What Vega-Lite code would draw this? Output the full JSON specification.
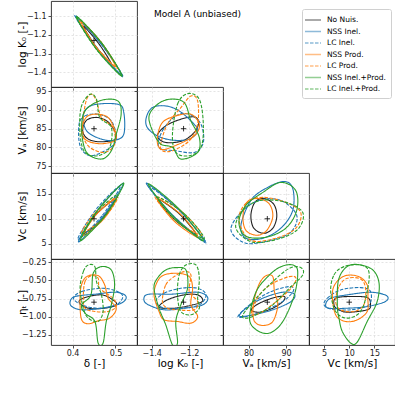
{
"$schema":"https://vega.github.io/schema/vega-lite/v6.json",
"background":"white",
"padding":{"left":16,"top":0,"right":2,"bottom":4},
"columns":4,"spacing":0,"bounds":"flush",
"datasets":{
"t":[{"p":"dk","x":0.45,"y":-1.23},{"p":"da","x":0.45,"y":85},{"p":"ka","x":-1.23,"y":85},{"p":"dc","x":0.45,"y":10},{"p":"kc","x":-1.23,"y":10},{"p":"ac","x":85,"y":10},{"p":"de","x":0.45,"y":-0.8},{"p":"ke","x":-1.23,"y":-0.8},{"p":"ae","x":85,"y":-0.8},{"p":"ce","x":10,"y":-0.8}],
"c":[
{"p":"dk","s":"No Nuis.","x":[0.425,0.4611,0.49,0.4539],"y":[-1.153,-1.2469,-1.354,-1.2601]},
{"p":"dk","s":"NSS Inel.","x":[0.41,0.4679,0.515,0.4571],"y":[-1.11,-1.2526,-1.415,-1.2724]},
{"p":"dk","s":"LC Inel.","x":[0.405,0.4669,0.518,0.4561],"y":[-1.095,-1.2501,-1.425,-1.2699]},
{"p":"dk","s":"NSS Prod.","x":[0.42,0.4663,0.50,0.4537],"y":[-1.13,-1.2384,-1.37,-1.2616]},
{"p":"dk","s":"LC Prod.","x":[0.415,0.4663,0.505,0.4537],"y":[-1.12,-1.2384,-1.38,-1.2616]},
{"p":"dk","s":"NSS Inel.+Prod.","x":[0.41,0.4697,0.515,0.4553],"y":[-1.105,-1.2493,-1.42,-1.2757]},
{"p":"dk","s":"LC Inel.+Prod.","x":[0.408,0.4687,0.515,0.4543],"y":[-1.10,-1.2468,-1.42,-1.2732]},
{"p":"da","s":"No Nuis.","x":[0.4237,0.4329,0.4596,0.4864,0.5017,0.4673,0.4367],"y":[84.43,87.26,87.96,86.37,82.48,81.51,82.22]},
{"p":"da","s":"NSS Inel.","x":[0.4252,0.4482,0.5055,0.5193,0.5193,0.4979,0.4673,0.4329],"y":[88.85,91.32,91.50,89.29,83.54,81.95,82.22,84.43]},
{"p":"da","s":"LC Inel.","x":[0.4153,0.4291,0.4596,0.4902,0.5017,0.4826,0.4405,0.4176],"y":[86.20,88.41,88.85,87.08,82.22,79.56,77.80,80.45]},
{"p":"da","s":"NSS Prod.","x":[0.4214,0.4329,0.4596,0.4864,0.5017,0.4749,0.4443,0.4252],"y":[84.87,88.14,88.85,87.52,82.48,81.07,81.33,82.66]},
{"p":"da","s":"LC Prod.","x":[0.4252,0.4329,0.4443,0.4558,0.4673,0.4940,0.4979,0.4749,0.4405,0.4252],"y":[87.96,92.83,94.15,92.39,87.96,85.31,80.89,78.68,80.01,83.10]},
{"p":"da","s":"NSS Inel.+Prod.","x":[0.4214,0.4291,0.4673,0.5055,0.5131,0.5017,0.4902,0.4673,0.4329],"y":[84.43,89.73,92.56,92.39,88.85,83.54,79.12,76.91,78.68]},
{"p":"da","s":"LC Inel.+Prod.","x":[0.4176,0.4199,0.4405,0.4558,0.4635,0.4902,0.4864,0.4596,0.4291],"y":[83.54,90.62,94.15,92.83,87.96,85.31,80.01,77.80,78.68]},
{"p":"ka","s":"No Nuis.","x":[-1.3696,-1.3249,-1.2445,-1.1730,-1.1498,-1.1730,-1.2356,-1.3249],"y":[83.10,85.75,87.52,88.14,86.64,83.99,81.78,81.33]},
{"p":"ka","s":"NSS Inel.","x":[-1.4286,-1.3964,-1.3249,-1.2534,-1.1820,-1.1551,-1.1998,-1.2892,-1.3696,-1.4232],"y":[87.96,90.62,91.06,89.73,86.64,84.43,82.22,81.95,83.10,85.31]},
{"p":"ka","s":"LC Inel.","x":[-1.3607,-1.3428,-1.2713,-1.1998,-1.1373,-1.1248,-1.1730,-1.2713],"y":[80.01,84.43,88.41,88.85,86.20,81.33,78.68,79.12]},
{"p":"ka","s":"NSS Prod.","x":[-1.3696,-1.3428,-1.2713,-1.1909,-1.1462,-1.1641,-1.2177,-1.3249,-1.3607],"y":[82.66,86.64,88.41,88.85,86.20,83.54,81.78,79.56,80.01]},
{"p":"ka","s":"LC Prod.","x":[-1.3517,-1.3160,-1.2445,-1.1909,-1.1551,-1.1551,-1.1998,-1.2892,-1.3428],"y":[80.89,86.20,90.62,93.71,92.39,86.20,81.78,79.12,79.12]},
{"p":"ka","s":"NSS Inel.+Prod.","x":[-1.4143,-1.3786,-1.3071,-1.2266,-1.1909,-1.1462,-1.1551,-1.2445,-1.2892,-1.3607],"y":[87.52,91.06,92.83,91.94,87.08,82.66,78.68,76.91,80.01,81.33]},
{"p":"ka","s":"LC Inel.+Prod.","x":[-1.2892,-1.2624,-1.2088,-1.1462,-1.1248,-1.1373,-1.1998,-1.2713],"y":[83.54,91.50,94.33,92.83,86.20,80.01,77.80,78.68]},
{"p":"dc","s":"No Nuis.","x":[0.4252,0.4677,0.4979,0.4554],"y":[7.05,9.93,13.79,10.92]},
{"p":"dc","s":"NSS Inel.","x":[0.4138,0.4734,0.5185,0.4589],"y":[5.40,10.76,17.09,11.73]},
{"p":"dc","s":"LC Inel.","x":[0.4122,0.4697,0.5116,0.4541],"y":[5.87,10.71,16.62,11.78]},
{"p":"dc","s":"NSS Prod.","x":[0.4252,0.4708,0.5017,0.4561],"y":[6.72,9.78,13.98,10.93]},
{"p":"dc","s":"LC Prod.","x":[0.4214,0.4715,0.5055,0.4554],"y":[7.19,10.04,14.31,11.46]},
{"p":"dc","s":"NSS Inel.+Prod.","x":[0.4183,0.4774,0.5193,0.4602],"y":[5.60,10.78,17.09,11.90]},
{"p":"dc","s":"LC Inel.+Prod.","x":[0.4199,0.4707,0.5055,0.4547],"y":[6.39,10.01,14.84,11.22]},
{"p":"kc","s":"No Nuis.","x":[-1.3696,-1.2534,-1.1641,-1.2803],"y":[13.98,10.99,6.92,9.92]},
{"p":"kc","s":"NSS Inel.","x":[-1.4286,-1.2561,-1.114,-1.2865],"y":[17.09,11.81,5.40,10.68]},
{"p":"kc","s":"LC Inel.","x":[-1.4143,-1.2459,-1.1105,-1.2788],"y":[16.43,11.42,5.21,10.21]},
{"p":"kc","s":"NSS Prod.","x":[-1.3696,-1.245,-1.1551,-1.2797],"y":[13.98,10.86,6.39,9.52]},
{"p":"kc","s":"LC Prod.","x":[-1.3821,-1.2386,-1.1319,-1.2754],"y":[14.45,11.40,6.72,9.77]},
{"p":"kc","s":"NSS Inel.+Prod.","x":[-1.4179,-1.2533,-1.1248,-1.2894],"y":[16.95,11.92,5.60,10.64]},
{"p":"kc","s":"LC Inel.+Prod.","x":[-1.3696,-1.2254,-1.1194,-1.2636],"y":[14.31,10.97,6.06,9.40]},
{"p":"ac","s":"No Nuis.","x":[80.63,81.69,84.08,86.73,87.52,86.46,84.08,81.42],"y":[10.68,13.26,14.05,12.86,10.49,8.11,7.12,8.11]},
{"p":"ac","s":"NSS Inel.","x":[77.97,80.63,84.61,89.38,91.77,91.77,88.58,83.81,79.30],"y":[8.70,13.66,16.03,17.42,16.03,11.67,8.11,6.13,6.13]},
{"p":"ac","s":"LC Inel.","x":[75.32,77.97,82.75,88.58,92.83,91.24,85.93,79.30],"y":[7.71,11.28,13.66,13.66,10.68,7.32,5.73,5.14]},
{"p":"ac","s":"NSS Prod.","x":[78.51,79.57,82.22,85.40,86.46,84.87,82.22,79.30],"y":[10.49,13.26,14.05,13.06,10.49,7.71,6.72,7.71]},
{"p":"ac","s":"LC Prod.","x":[77.44,79.30,83.81,89.91,93.89,92.56,87.26,80.63],"y":[9.69,13.06,14.25,13.26,11.28,8.11,6.13,5.73]},
{"p":"ac","s":"NSS Inel.+Prod.","x":[77.44,79.30,83.81,88.58,92.56,92.83,89.91,84.61,79.30],"y":[9.30,12.66,15.24,17.22,15.63,11.67,8.11,6.33,6.53]},
{"p":"ac","s":"LC Inel.+Prod.","x":[76.65,78.51,83.28,89.91,94.42,93.36,88.58,81.16],"y":[8.11,11.67,13.66,13.26,11.28,8.11,6.13,5.34]},
{"p":"de","s":"No Nuis.","x":[0.4153,0.4291,0.4673,0.4940,0.5017,0.4749,0.4367],"y":[-0.800,-0.736,-0.699,-0.768,-0.837,-0.883,-0.883]},
{"p":"de","s":"NSS Inel.","x":[0.3946,0.4061,0.4520,0.5017,0.5245,0.5131,0.4673,0.4214,0.3985],"y":[-0.791,-0.722,-0.690,-0.663,-0.722,-0.814,-0.883,-0.905,-0.860]},
{"p":"de","s":"LC Inel.","x":[0.4023,0.4214,0.4673,0.5017,0.5170,0.5017,0.4596,0.4214],"y":[-0.745,-0.654,-0.608,-0.645,-0.722,-0.837,-0.883,-0.837]},
{"p":"de","s":"NSS Prod.","x":[0.4176,0.4199,0.4329,0.4596,0.4749,0.4826,0.5017,0.4864,0.4596,0.4367,0.4214],"y":[-0.837,-0.585,-0.448,-0.434,-0.562,-0.745,-0.883,-1.020,-1.057,-1.098,-1.043]},
{"p":"de","s":"LC Prod.","x":[0.4252,0.4291,0.4443,0.4596,0.4635,0.4940,0.5017,0.4826,0.4520,0.4291],"y":[-0.722,-0.516,-0.434,-0.470,-0.608,-0.745,-0.860,-0.928,-0.928,-0.883]},
{"p":"de","s":"NSS Inel.+Prod.","x":[0.4428,0.4482,0.4673,0.4902,0.4979,0.4902,0.4786,0.4711,0.4596,0.4520,0.4291,0.4214],"y":[-0.699,-0.402,-0.310,-0.356,-0.562,-0.837,-1.066,-1.363,-1.363,-1.066,-0.951,-0.837]},
{"p":"de","s":"LC Inel.+Prod.","x":[0.4176,0.4252,0.4367,0.4520,0.4558,0.4673,0.4711,0.4596,0.4367,0.4252],"y":[-0.608,-0.379,-0.287,-0.310,-0.516,-0.699,-0.928,-1.066,-1.020,-0.883]},
{"p":"ke","s":"No Nuis.","x":[-1.3607,-1.3160,-1.2266,-1.1551,-1.1283,-1.1820,-1.2803],"y":[-0.869,-0.768,-0.699,-0.699,-0.782,-0.837,-0.883]},
{"p":"ke","s":"NSS Inel.","x":[-1.4411,-1.4143,-1.2981,-1.1551,-1.1015,-1.1283,-1.2266,-1.3339,-1.4232],"y":[-0.745,-0.690,-0.690,-0.663,-0.736,-0.837,-0.883,-0.905,-0.828]},
{"p":"ke","s":"LC Inel.","x":[-1.3786,-1.3339,-1.2445,-1.1551,-1.1105,-1.1462,-1.2445,-1.3339],"y":[-0.791,-0.677,-0.608,-0.608,-0.699,-0.837,-0.883,-0.883]},
{"p":"ke","s":"NSS Prod.","x":[-1.3875,-1.3696,-1.3339,-1.2624,-1.1998,-1.1820,-1.1909,-1.1551,-1.1909,-1.2624,-1.3339,-1.3607],"y":[-0.699,-0.516,-0.425,-0.402,-0.448,-0.608,-0.837,-0.997,-1.089,-1.066,-1.043,-0.928]},
{"p":"ke","s":"LC Prod.","x":[-1.3428,-1.3249,-1.2803,-1.2266,-1.1909,-1.1998,-1.1551,-1.1730,-1.2624,-1.3160],"y":[-0.791,-0.562,-0.448,-0.379,-0.425,-0.654,-0.791,-0.905,-0.905,-0.883]},
{"p":"ke","s":"NSS Inel.+Prod.","x":[-1.3875,-1.3696,-1.3249,-1.2713,-1.2177,-1.2088,-1.2445,-1.2713,-1.2624,-1.2892,-1.3249,-1.3607],"y":[-0.608,-0.471,-0.356,-0.324,-0.356,-0.608,-0.837,-1.066,-1.363,-1.386,-1.112,-0.883]},
{"p":"ke","s":"LC Inel.+Prod.","x":[-1.2624,-1.2534,-1.2177,-1.1641,-1.1462,-1.1551,-1.1462,-1.1909,-1.2445],"y":[-0.699,-0.425,-0.287,-0.287,-0.471,-0.745,-0.883,-0.974,-0.928]},
{"p":"ae","s":"No Nuis.","x":[80.72,82.93,86.90,89.56,89.12,86.46,82.93],"y":[-0.905,-0.814,-0.736,-0.722,-0.791,-0.883,-0.938]},
{"p":"ae","s":"NSS Inel.","x":[77.62,79.39,83.81,89.12,92.21,91.33,86.46,81.16,78.06],"y":[-0.974,-0.883,-0.745,-0.663,-0.690,-0.791,-0.905,-0.974,-0.997]},
{"p":"ae","s":"LC Inel.","x":[77.18,80.27,85.58,90.88,91.94,89.12,83.81,79.39],"y":[-0.997,-0.837,-0.663,-0.585,-0.645,-0.791,-0.928,-0.997]},
{"p":"ae","s":"NSS Prod.","x":[81.60,82.93,84.69,86.46,86.90,87.79,86.46,83.81,81.60,81.16],"y":[-0.745,-0.539,-0.434,-0.448,-0.654,-0.837,-1.066,-1.121,-1.066,-0.905]},
{"p":"ae","s":"LC Prod.","x":[80.72,82.93,86.46,90.88,92.65,91.33,87.35,83.81,81.60],"y":[-0.951,-0.699,-0.539,-0.448,-0.471,-0.608,-0.791,-0.928,-0.974]},
{"p":"ae","s":"NSS Inel.+Prod.","x":[80.27,82.04,85.58,88.67,91.77,93.09,92.21,89.12,85.58,82.04],"y":[-1.020,-0.654,-0.425,-0.310,-0.287,-0.379,-0.699,-1.066,-1.226,-1.180]},
{"p":"ae","s":"LC Inel.+Prod.","x":[78.50,82.04,86.46,90.88,93.98,94.42,90.88,86.46,82.04,79.39],"y":[-0.974,-0.745,-0.516,-0.333,-0.324,-0.425,-0.608,-0.837,-0.974,-1.020]},
{"p":"ce","s":"No Nuis.","x":[6.97,7.30,9.94,13.57,14.23,13.57,9.61,7.63],"y":[-0.837,-0.745,-0.722,-0.736,-0.837,-0.905,-0.938,-0.892]},
{"p":"ce","s":"NSS Inel.","x":[5.32,6.31,9.61,14.23,17.40,17.20,13.57,9.61,5.98],"y":[-0.828,-0.745,-0.699,-0.663,-0.709,-0.791,-0.860,-0.883,-0.883]},
{"p":"ce","s":"LC Inel.","x":[4.99,5.65,8.29,12.25,14.23,13.90,10.27,6.31],"y":[-0.837,-0.745,-0.631,-0.599,-0.654,-0.837,-0.905,-0.892]},
{"p":"ce","s":"NSS Prod.","x":[6.64,7.30,9.28,11.92,13.57,13.70,13.57,11.59,9.28,7.30],"y":[-0.699,-0.539,-0.434,-0.448,-0.562,-0.745,-0.928,-1.043,-1.066,-0.974]},
{"p":"ce","s":"LC Prod.","x":[7.30,7.96,9.61,12.25,13.24,12.91,10.93,8.29],"y":[-0.791,-0.585,-0.471,-0.480,-0.608,-0.837,-0.928,-0.905]},
{"p":"ce","s":"NSS Inel.+Prod.","x":[7.63,7.96,10.27,14.23,15.88,15.55,13.57,11.59,10.27,8.62,7.96],"y":[-0.837,-0.471,-0.287,-0.333,-0.516,-0.791,-1.066,-1.350,-1.363,-1.203,-1.020]},
{"p":"ce","s":"LC Inel.+Prod.","x":[6.31,6.97,8.95,12.25,13.90,13.57,12.25,9.61,7.30],"y":[-0.654,-0.425,-0.310,-0.287,-0.379,-0.654,-0.928,-1.020,-0.928]}
]},
"concat":[
{"width":86,"height":86,
 "encoding":{"x":{"field":"x","type":"quantitative","scale":{"domain":[0.35,0.55],"nice":false,"zero":false},"axis":{"values":[0.4,0.5],"labels":false,"title":null}},
  "y":{"field":"y","type":"quantitative","scale":{"domain":[-1.478,-1.02],"nice":false,"zero":false},"axis":{"values":[-1.4,-1.3,-1.2,-1.1],"format":".1f","title":"log K₀ [-]"}}},
 "layer":[
  {"data":{"name":"c"},"transform":[{"filter":"datum.p=='dk'"},{"flatten":["x","y"]}],"mark":{"type":"line","interpolate":"cardinal-closed","strokeWidth":1.1,"clip":true},
   "encoding":{"color":{"field":"s","type":"nominal","scale":{"domain":["No Nuis.","NSS Inel.","LC Inel.","NSS Prod.","LC Prod.","NSS Inel.+Prod.","LC Inel.+Prod."],"range":["#222222","#1f77b4","#1f77b4","#ff7f0e","#ff7f0e","#2ca02c","#2ca02c"]},"legend":{"orient":"none","legendX":251,"legendY":8,"title":null}},
   "strokeDash":{"field":"s","type":"nominal","scale":{"domain":["No Nuis.","NSS Inel.","LC Inel.","NSS Prod.","LC Prod.","NSS Inel.+Prod.","LC Inel.+Prod."],"range":[[1,0],[1,0],[3.5,1.5],[1,0],[3.5,1.5],[1,0],[3.5,1.5]]},"legend":{"orient":"none","legendX":251,"legendY":8,"title":null}},
   "order":{"value":null}}},
  {"data":{"name":"t"},"transform":[{"filter":"datum.p=='dk'"}],"mark":{"type":"point","shape":"M-1,0H1M0,-1V1","size":30,"stroke":"#000","strokeWidth":0.8,"filled":false,"opacity":1}}
 ]},
{"width":86,"height":86,"view":{"stroke":null},"title":{"text":"Model A (unbiased)","anchor":"start","orient":"top","offset":-18,"dx":17},"data":{"values":[{}]},"mark":{"type":"point","opacity":0},"encoding":{}},
{"width":86,"height":86,"view":{"stroke":null},"data":{"values":[{}]},"mark":{"type":"point","opacity":0},"encoding":{}},
{"width":86,"height":86,"view":{"stroke":null},"data":{"values":[{}]},"mark":{"type":"point","opacity":0},"encoding":{}},
{"width":86,"height":86,
 "encoding":{"x":{"field":"x","type":"quantitative","scale":{"domain":[0.35,0.55],"nice":false,"zero":false},"axis":{"values":[0.4,0.5],"labels":false,"title":null}},
  "y":{"field":"y","type":"quantitative","scale":{"domain":[73.2,96.1],"nice":false,"zero":false},"axis":{"values":[75,80,85,90,95],"title":"Vₐ [km/s]"}}},
 "layer":[
  {"data":{"name":"c"},"transform":[{"filter":"datum.p=='da'"},{"flatten":["x","y"]}],"mark":{"type":"line","interpolate":"cardinal-closed","strokeWidth":1.1,"clip":true},
   "encoding":{"color":{"field":"s","type":"nominal","scale":{"domain":["No Nuis.","NSS Inel.","LC Inel.","NSS Prod.","LC Prod.","NSS Inel.+Prod.","LC Inel.+Prod."],"range":["#222222","#1f77b4","#1f77b4","#ff7f0e","#ff7f0e","#2ca02c","#2ca02c"]},"legend":{"orient":"none","legendX":251,"legendY":8,"title":null}},
   "strokeDash":{"field":"s","type":"nominal","scale":{"domain":["No Nuis.","NSS Inel.","LC Inel.","NSS Prod.","LC Prod.","NSS Inel.+Prod.","LC Inel.+Prod."],"range":[[1,0],[1,0],[3.5,1.5],[1,0],[3.5,1.5],[1,0],[3.5,1.5]]},"legend":{"orient":"none","legendX":251,"legendY":8,"title":null}},
   "order":{"value":null}}},
  {"data":{"name":"t"},"transform":[{"filter":"datum.p=='da'"}],"mark":{"type":"point","shape":"M-1,0H1M0,-1V1","size":30,"stroke":"#000","strokeWidth":0.8,"filled":false,"opacity":1}}
 ]},
{"width":86,"height":86,
 "encoding":{"x":{"field":"x","type":"quantitative","scale":{"domain":[-1.478,-1.02],"nice":false,"zero":false},"axis":{"values":[-1.4,-1.2],"labels":false,"title":null}},
  "y":{"field":"y","type":"quantitative","scale":{"domain":[73.2,96.1],"nice":false,"zero":false},"axis":{"values":[75,80,85,90,95],"labels":false,"title":null}}},
 "layer":[
  {"data":{"name":"c"},"transform":[{"filter":"datum.p=='ka'"},{"flatten":["x","y"]}],"mark":{"type":"line","interpolate":"cardinal-closed","strokeWidth":1.1,"clip":true},
   "encoding":{"color":{"field":"s","type":"nominal","scale":{"domain":["No Nuis.","NSS Inel.","LC Inel.","NSS Prod.","LC Prod.","NSS Inel.+Prod.","LC Inel.+Prod."],"range":["#222222","#1f77b4","#1f77b4","#ff7f0e","#ff7f0e","#2ca02c","#2ca02c"]},"legend":{"orient":"none","legendX":251,"legendY":8,"title":null}},
   "strokeDash":{"field":"s","type":"nominal","scale":{"domain":["No Nuis.","NSS Inel.","LC Inel.","NSS Prod.","LC Prod.","NSS Inel.+Prod.","LC Inel.+Prod."],"range":[[1,0],[1,0],[3.5,1.5],[1,0],[3.5,1.5],[1,0],[3.5,1.5]]},"legend":{"orient":"none","legendX":251,"legendY":8,"title":null}},
   "order":{"value":null}}},
  {"data":{"name":"t"},"transform":[{"filter":"datum.p=='ka'"}],"mark":{"type":"point","shape":"M-1,0H1M0,-1V1","size":30,"stroke":"#000","strokeWidth":0.8,"filled":false,"opacity":1}}
 ]},
{"width":86,"height":86,"view":{"stroke":null},"data":{"values":[{}]},"mark":{"type":"point","opacity":0},"encoding":{}},
{"width":86,"height":86,"view":{"stroke":null},"data":{"values":[{}]},"mark":{"type":"point","opacity":0},"encoding":{}},
{"width":86,"height":86,
 "encoding":{"x":{"field":"x","type":"quantitative","scale":{"domain":[0.35,0.55],"nice":false,"zero":false},"axis":{"values":[0.4,0.5],"labels":false,"title":null}},
  "y":{"field":"y","type":"quantitative","scale":{"domain":[2.0,19.1],"nice":false,"zero":false},"axis":{"values":[5,10,15],"title":"Vc [km/s]"}}},
 "layer":[
  {"data":{"name":"c"},"transform":[{"filter":"datum.p=='dc'"},{"flatten":["x","y"]}],"mark":{"type":"line","interpolate":"cardinal-closed","strokeWidth":1.1,"clip":true},
   "encoding":{"color":{"field":"s","type":"nominal","scale":{"domain":["No Nuis.","NSS Inel.","LC Inel.","NSS Prod.","LC Prod.","NSS Inel.+Prod.","LC Inel.+Prod."],"range":["#222222","#1f77b4","#1f77b4","#ff7f0e","#ff7f0e","#2ca02c","#2ca02c"]},"legend":{"orient":"none","legendX":251,"legendY":8,"title":null}},
   "strokeDash":{"field":"s","type":"nominal","scale":{"domain":["No Nuis.","NSS Inel.","LC Inel.","NSS Prod.","LC Prod.","NSS Inel.+Prod.","LC Inel.+Prod."],"range":[[1,0],[1,0],[3.5,1.5],[1,0],[3.5,1.5],[1,0],[3.5,1.5]]},"legend":{"orient":"none","legendX":251,"legendY":8,"title":null}},
   "order":{"value":null}}},
  {"data":{"name":"t"},"transform":[{"filter":"datum.p=='dc'"}],"mark":{"type":"point","shape":"M-1,0H1M0,-1V1","size":30,"stroke":"#000","strokeWidth":0.8,"filled":false,"opacity":1}}
 ]},
{"width":86,"height":86,
 "encoding":{"x":{"field":"x","type":"quantitative","scale":{"domain":[-1.478,-1.02],"nice":false,"zero":false},"axis":{"values":[-1.4,-1.2],"labels":false,"title":null}},
  "y":{"field":"y","type":"quantitative","scale":{"domain":[2.0,19.1],"nice":false,"zero":false},"axis":{"values":[5,10,15],"labels":false,"title":null}}},
 "layer":[
  {"data":{"name":"c"},"transform":[{"filter":"datum.p=='kc'"},{"flatten":["x","y"]}],"mark":{"type":"line","interpolate":"cardinal-closed","strokeWidth":1.1,"clip":true},
   "encoding":{"color":{"field":"s","type":"nominal","scale":{"domain":["No Nuis.","NSS Inel.","LC Inel.","NSS Prod.","LC Prod.","NSS Inel.+Prod.","LC Inel.+Prod."],"range":["#222222","#1f77b4","#1f77b4","#ff7f0e","#ff7f0e","#2ca02c","#2ca02c"]},"legend":{"orient":"none","legendX":251,"legendY":8,"title":null}},
   "strokeDash":{"field":"s","type":"nominal","scale":{"domain":["No Nuis.","NSS Inel.","LC Inel.","NSS Prod.","LC Prod.","NSS Inel.+Prod.","LC Inel.+Prod."],"range":[[1,0],[1,0],[3.5,1.5],[1,0],[3.5,1.5],[1,0],[3.5,1.5]]},"legend":{"orient":"none","legendX":251,"legendY":8,"title":null}},
   "order":{"value":null}}},
  {"data":{"name":"t"},"transform":[{"filter":"datum.p=='kc'"}],"mark":{"type":"point","shape":"M-1,0H1M0,-1V1","size":30,"stroke":"#000","strokeWidth":0.8,"filled":false,"opacity":1}}
 ]},
{"width":86,"height":86,
 "encoding":{"x":{"field":"x","type":"quantitative","scale":{"domain":[73.2,96.1],"nice":false,"zero":false},"axis":{"values":[80,90],"labels":false,"title":null}},
  "y":{"field":"y","type":"quantitative","scale":{"domain":[2.0,19.1],"nice":false,"zero":false},"axis":{"values":[5,10,15],"labels":false,"title":null}}},
 "layer":[
  {"data":{"name":"c"},"transform":[{"filter":"datum.p=='ac'"},{"flatten":["x","y"]}],"mark":{"type":"line","interpolate":"cardinal-closed","strokeWidth":1.1,"clip":true},
   "encoding":{"color":{"field":"s","type":"nominal","scale":{"domain":["No Nuis.","NSS Inel.","LC Inel.","NSS Prod.","LC Prod.","NSS Inel.+Prod.","LC Inel.+Prod."],"range":["#222222","#1f77b4","#1f77b4","#ff7f0e","#ff7f0e","#2ca02c","#2ca02c"]},"legend":{"orient":"none","legendX":251,"legendY":8,"title":null}},
   "strokeDash":{"field":"s","type":"nominal","scale":{"domain":["No Nuis.","NSS Inel.","LC Inel.","NSS Prod.","LC Prod.","NSS Inel.+Prod.","LC Inel.+Prod."],"range":[[1,0],[1,0],[3.5,1.5],[1,0],[3.5,1.5],[1,0],[3.5,1.5]]},"legend":{"orient":"none","legendX":251,"legendY":8,"title":null}},
   "order":{"value":null}}},
  {"data":{"name":"t"},"transform":[{"filter":"datum.p=='ac'"}],"mark":{"type":"point","shape":"M-1,0H1M0,-1V1","size":30,"stroke":"#000","strokeWidth":0.8,"filled":false,"opacity":1}}
 ]},
{"width":86,"height":86,"view":{"stroke":null},"data":{"values":[{}]},"mark":{"type":"point","opacity":0},"encoding":{}},
{"width":86,"height":86,
 "encoding":{"x":{"field":"x","type":"quantitative","scale":{"domain":[0.35,0.55],"nice":false,"zero":false},"axis":{"values":[0.4,0.5],"format":".1f","title":"δ [-]"}},
  "y":{"field":"y","type":"quantitative","scale":{"domain":[-1.39,-0.205],"nice":false,"zero":false},"axis":{"values":[-1.25,-1,-0.75,-0.5,-0.25],"format":".2f","title":"ηₜ [-]"}}},
 "layer":[
  {"data":{"name":"c"},"transform":[{"filter":"datum.p=='de'"},{"flatten":["x","y"]}],"mark":{"type":"line","interpolate":"cardinal-closed","strokeWidth":1.1,"clip":true},
   "encoding":{"color":{"field":"s","type":"nominal","scale":{"domain":["No Nuis.","NSS Inel.","LC Inel.","NSS Prod.","LC Prod.","NSS Inel.+Prod.","LC Inel.+Prod."],"range":["#222222","#1f77b4","#1f77b4","#ff7f0e","#ff7f0e","#2ca02c","#2ca02c"]},"legend":{"orient":"none","legendX":251,"legendY":8,"title":null}},
   "strokeDash":{"field":"s","type":"nominal","scale":{"domain":["No Nuis.","NSS Inel.","LC Inel.","NSS Prod.","LC Prod.","NSS Inel.+Prod.","LC Inel.+Prod."],"range":[[1,0],[1,0],[3.5,1.5],[1,0],[3.5,1.5],[1,0],[3.5,1.5]]},"legend":{"orient":"none","legendX":251,"legendY":8,"title":null}},
   "order":{"value":null}}},
  {"data":{"name":"t"},"transform":[{"filter":"datum.p=='de'"}],"mark":{"type":"point","shape":"M-1,0H1M0,-1V1","size":30,"stroke":"#000","strokeWidth":0.8,"filled":false,"opacity":1}}
 ]},
{"width":86,"height":86,
 "encoding":{"x":{"field":"x","type":"quantitative","scale":{"domain":[-1.478,-1.02],"nice":false,"zero":false},"axis":{"values":[-1.4,-1.2],"format":".1f","title":"log K₀ [-]"}},
  "y":{"field":"y","type":"quantitative","scale":{"domain":[-1.39,-0.205],"nice":false,"zero":false},"axis":{"values":[-1.25,-1,-0.75,-0.5,-0.25],"labels":false,"title":null}}},
 "layer":[
  {"data":{"name":"c"},"transform":[{"filter":"datum.p=='ke'"},{"flatten":["x","y"]}],"mark":{"type":"line","interpolate":"cardinal-closed","strokeWidth":1.1,"clip":true},
   "encoding":{"color":{"field":"s","type":"nominal","scale":{"domain":["No Nuis.","NSS Inel.","LC Inel.","NSS Prod.","LC Prod.","NSS Inel.+Prod.","LC Inel.+Prod."],"range":["#222222","#1f77b4","#1f77b4","#ff7f0e","#ff7f0e","#2ca02c","#2ca02c"]},"legend":{"orient":"none","legendX":251,"legendY":8,"title":null}},
   "strokeDash":{"field":"s","type":"nominal","scale":{"domain":["No Nuis.","NSS Inel.","LC Inel.","NSS Prod.","LC Prod.","NSS Inel.+Prod.","LC Inel.+Prod."],"range":[[1,0],[1,0],[3.5,1.5],[1,0],[3.5,1.5],[1,0],[3.5,1.5]]},"legend":{"orient":"none","legendX":251,"legendY":8,"title":null}},
   "order":{"value":null}}},
  {"data":{"name":"t"},"transform":[{"filter":"datum.p=='ke'"}],"mark":{"type":"point","shape":"M-1,0H1M0,-1V1","size":30,"stroke":"#000","strokeWidth":0.8,"filled":false,"opacity":1}}
 ]},
{"width":86,"height":86,
 "encoding":{"x":{"field":"x","type":"quantitative","scale":{"domain":[73.2,96.1],"nice":false,"zero":false},"axis":{"values":[80,90],"title":"Vₐ [km/s]"}},
  "y":{"field":"y","type":"quantitative","scale":{"domain":[-1.39,-0.205],"nice":false,"zero":false},"axis":{"values":[-1.25,-1,-0.75,-0.5,-0.25],"labels":false,"title":null}}},
 "layer":[
  {"data":{"name":"c"},"transform":[{"filter":"datum.p=='ae'"},{"flatten":["x","y"]}],"mark":{"type":"line","interpolate":"cardinal-closed","strokeWidth":1.1,"clip":true},
   "encoding":{"color":{"field":"s","type":"nominal","scale":{"domain":["No Nuis.","NSS Inel.","LC Inel.","NSS Prod.","LC Prod.","NSS Inel.+Prod.","LC Inel.+Prod."],"range":["#222222","#1f77b4","#1f77b4","#ff7f0e","#ff7f0e","#2ca02c","#2ca02c"]},"legend":{"orient":"none","legendX":251,"legendY":8,"title":null}},
   "strokeDash":{"field":"s","type":"nominal","scale":{"domain":["No Nuis.","NSS Inel.","LC Inel.","NSS Prod.","LC Prod.","NSS Inel.+Prod.","LC Inel.+Prod."],"range":[[1,0],[1,0],[3.5,1.5],[1,0],[3.5,1.5],[1,0],[3.5,1.5]]},"legend":{"orient":"none","legendX":251,"legendY":8,"title":null}},
   "order":{"value":null}}},
  {"data":{"name":"t"},"transform":[{"filter":"datum.p=='ae'"}],"mark":{"type":"point","shape":"M-1,0H1M0,-1V1","size":30,"stroke":"#000","strokeWidth":0.8,"filled":false,"opacity":1}}
 ]},
{"width":86,"height":86,
 "encoding":{"x":{"field":"x","type":"quantitative","scale":{"domain":[2.0,19.1],"nice":false,"zero":false},"axis":{"values":[5,10,15],"title":"Vc [km/s]"}},
  "y":{"field":"y","type":"quantitative","scale":{"domain":[-1.39,-0.205],"nice":false,"zero":false},"axis":{"values":[-1.25,-1,-0.75,-0.5,-0.25],"labels":false,"title":null}}},
 "layer":[
  {"data":{"name":"c"},"transform":[{"filter":"datum.p=='ce'"},{"flatten":["x","y"]}],"mark":{"type":"line","interpolate":"cardinal-closed","strokeWidth":1.1,"clip":true},
   "encoding":{"color":{"field":"s","type":"nominal","scale":{"domain":["No Nuis.","NSS Inel.","LC Inel.","NSS Prod.","LC Prod.","NSS Inel.+Prod.","LC Inel.+Prod."],"range":["#222222","#1f77b4","#1f77b4","#ff7f0e","#ff7f0e","#2ca02c","#2ca02c"]},"legend":{"orient":"none","legendX":251,"legendY":8,"title":null}},
   "strokeDash":{"field":"s","type":"nominal","scale":{"domain":["No Nuis.","NSS Inel.","LC Inel.","NSS Prod.","LC Prod.","NSS Inel.+Prod.","LC Inel.+Prod."],"range":[[1,0],[1,0],[3.5,1.5],[1,0],[3.5,1.5],[1,0],[3.5,1.5]]},"legend":{"orient":"none","legendX":251,"legendY":8,"title":null}},
   "order":{"value":null}}},
  {"data":{"name":"t"},"transform":[{"filter":"datum.p=='ce'"}],"mark":{"type":"point","shape":"M-1,0H1M0,-1V1","size":30,"stroke":"#000","strokeWidth":0.8,"filled":false,"opacity":1}}
 ]}
],
"config":{
 "font":"DejaVu Sans",
 "view":{"stroke":"#222222","strokeWidth":0.9},
 "axis":{"labelFont":"DejaVu Sans","titleFont":"DejaVu Sans","labelFontSize":8,"titleFontSize":10.5,"titleFontWeight":"normal","labelColor":"#222222","titleColor":"#000000","tickColor":"#222222","tickSize":3,"tickWidth":0.8,"domain":false,"gridColor":"#d9d9d9","gridDash":[2,2],"gridWidth":0.7,"labelPadding":2,"labelFlush":false},
 "axisY":{"titleX":-24,"titlePadding":2},
 "axisX":{"labelPadding":1.5,"titlePadding":1},
 "title":{"font":"DejaVu Sans","fontSize":9,"fontWeight":"normal","color":"#000000"},
 "legend":{"labelFont":"DejaVu Sans","labelFontSize":7.5,"labelColor":"#000000","symbolType":"M-1.6,0H1.6","symbolSize":100,"symbolStrokeWidth":1.6,"symbolOpacity":0.5,"padding":5,"rowPadding":1.5,"strokeColor":"#d0d0d0","fillColor":"#ffffff","cornerRadius":2,"labelOffset":8,"labelLimit":0}
}
}
